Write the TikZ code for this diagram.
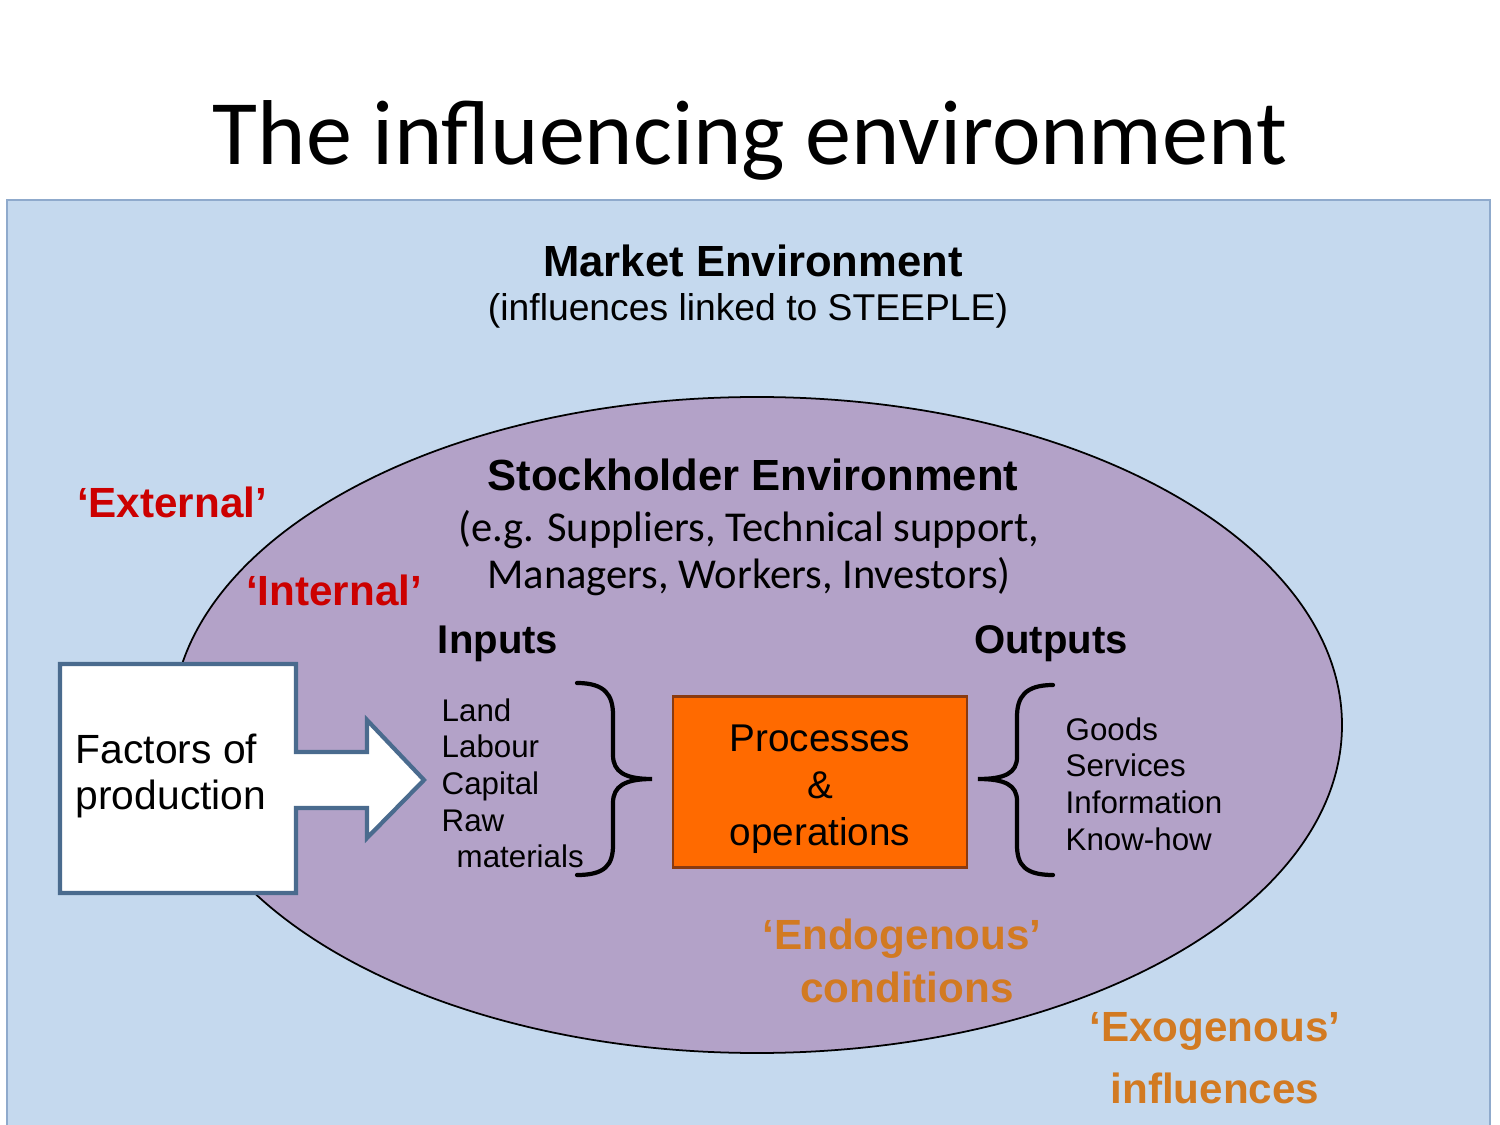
\documentclass[tikz,border=0pt]{standalone}
\usepackage{fontspec}
\setmainfont{Liberation Sans}
\newfontfamily\titlefont{Carlito}
\begin{document}
\begin{tikzpicture}[x=0.01cm,y=-0.01cm]
\definecolor{cback}{HTML}{C5D9EE}\definecolor{cbackd}{HTML}{8FAACC}
\definecolor{cpurple}{HTML}{B3A2C8}
\definecolor{corange}{HTML}{FF6A00}\definecolor{corange2}{HTML}{8A3A10}
\definecolor{cred}{HTML}{CC0000}\definecolor{cgold}{HTML}{D27A22}
\definecolor{csteel}{HTML}{4A6B8E}
\tikzset{label/.style={inner sep=0pt,align=center},
 bolds/.style={label,font=\fontsize{12.4}{14}\selectfont\bfseries},
 small/.style={label,align=left,font=\fontsize{8.9}{10.4}\selectfont},
 brace/.style={line width=1.2pt,line cap=round}}
\useasboundingbox (0,0) rectangle (1500,1125);
\fill[white] (0,0) rectangle (1500,1125);
\node[label,font=\titlefont\fontsize{26.2}{30}\selectfont] (title) at (750,140) {The influencing environment};
% background panel and ellipse
\draw[cbackd,fill=cback,line width=0.8pt] (7,200) rectangle (1490,1140);
\draw[fill=cpurple,line width=0.5pt] (757,725) ellipse [x radius=585,y radius=328];
\node[bolds] (market) at (753,261) {Market Environment};
\node[label,font=\fontsize{10.6}{12}\selectfont] (steeple) at (748,311) {(influences linked to STEEPLE)};
\node[bolds] (stock) at (753,475) {Stockholder Environment};
\node[label,font=\titlefont\fontsize{12.1}{13.4}\selectfont] (eg) at (749,553) {(e.g. Suppliers, Technical support,\\Managers, Workers, Investors)};
\node[label,text=cred,font=\fontsize{12}{14}\selectfont\bfseries] (ext) at (172,502) {`External'};
\node[label,text=cred,font=\fontsize{12}{14}\selectfont\bfseries] (int) at (334,590) {`Internal'};
% factors of production
\draw[csteel,fill=white,line width=1.2pt] (60,664) -- (296,664) -- (296,752) -- (367,752) -- (367,720)
 -- (424,780) -- (367,838) -- (367,808) -- (296,808) -- (296,893) -- (60,893) -- cycle;
\node[label,align=left,anchor=west,font=\fontsize{11.6}{13.3}\selectfont] (factors) at (75,776) {Factors of\\production};
% inputs
\node[bolds,font=\fontsize{11.4}{14}\selectfont\bfseries] (inputs) at (498,644) {Inputs};
\node[small,anchor=north west] (inlist) at (441,698) {Land\\Labour\\Capital\\Raw\\\hspace{1.5mm}materials};
\draw[brace] (577,683) .. controls (605,683) and (613,695) .. (613,715) -- (613,755)
 .. controls (613,772) and (625,779) .. (652,779) .. controls (625,779) and (613,786) .. (613,803)
 -- (613,845) .. controls (613,865) and (605,875) .. (577,875);
% process
\node[draw=corange2,fill=corange,minimum width=2.94cm,minimum height=1.71cm,line width=0.6pt,inner sep=0pt] (proc) at (820,782) {};
\node[label,font=\fontsize{11}{13.4}\selectfont] (proctext) at (820,789) {Processes\\\&\\operations};
% outputs
\node[bolds,font=\fontsize{11.4}{14}\selectfont\bfseries] (outputs) at (1051,644) {Outputs};
\draw[brace] (1053,685) .. controls (1025,685) and (1017,697) .. (1017,717) -- (1017,757)
 .. controls (1017,773) and (1005,779) .. (978,779) .. controls (1005,779) and (1017,785) .. (1017,801)
 -- (1017,845) .. controls (1017,865) and (1025,875) .. (1053,875);
\node[small,anchor=north west] (outlist) at (1065,717) {Goods\\Services\\Information\\Know-how};
% influences
\node[label,text=cgold,font=\fontsize{12}{15}\selectfont\bfseries] (endo) at (902,961) {`Endogenous'\\\hspace{1mm}conditions};
\node[label,text=cgold,font=\fontsize{12}{17.6}\selectfont\bfseries] (exo) at (1215,1058) {`Exogenous'\\influences};
\end{tikzpicture}
\end{document}
